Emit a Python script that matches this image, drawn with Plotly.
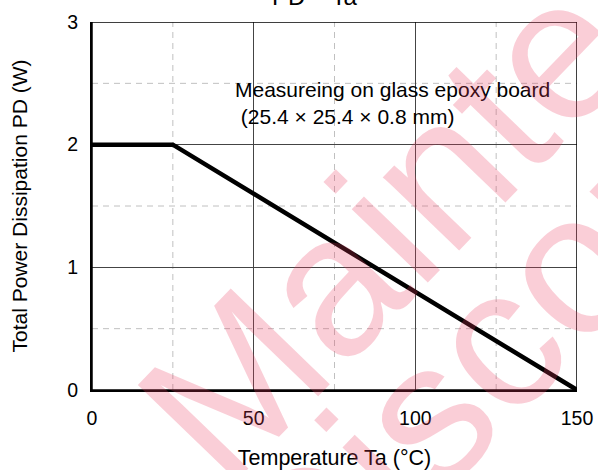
import plotly.graph_objects as go

# Data
temp_c = [0, 25, 150]
power_w = [2.0, 2.0, 0.0]
x_ticks = [0, 50, 100, 150]
y_ticks = [0, 1, 2, 3]
x_minor = [25, 75, 125]
y_minor = [0.5, 1.5, 2.5]

W, H = 598, 470
L, R, T, B = 92, 21, 22, 80
pw, ph = W - L - R, H - T - B
FONT = "Liberation Sans, Arial, sans-serif"

fig = go.Figure()

# dashed minor grid lines
for xv in x_minor:
    fig.add_shape(type="line", x0=xv, x1=xv, y0=0, y1=3, xref="x", yref="y",
                  line=dict(color="#c0c0c0", width=1, dash="6px,5px"), layer="below")
for yv in y_minor:
    fig.add_shape(type="line", x0=0, x1=150, y0=yv, y1=yv, xref="x", yref="y",
                  line=dict(color="#c0c0c0", width=1, dash="6px,5px"), layer="below")

fig.add_trace(go.Scatter(x=temp_c, y=power_w, mode="lines",
                         line=dict(color="black", width=4.5), showlegend=False,
                         hoverinfo="skip"))

# top/right borders
fig.add_shape(type="rect", x0=0, x1=150, y0=0, y1=3, xref="x", yref="y",
              line=dict(color="black", width=1.5), layer="above")

fig.update_xaxes(range=[0, 150], tickvals=x_ticks, showgrid=True, gridcolor="#444",
                 gridwidth=1, zeroline=False, showline=True, linecolor="black", linewidth=2,
                 ticks="", automargin=False, ticklabelstandoff=10,
                 tickfont=dict(family=FONT, size=19.5, color="black"),
                 title=dict(text="Temperature Ta (°C)", font=dict(family=FONT, size=21.5, color="black"), standoff=28),
                 fixedrange=True)
fig.update_yaxes(range=[0, 3], tickvals=y_ticks, showgrid=True, gridcolor="#444",
                 gridwidth=1, zeroline=False, showline=True, linecolor="black", linewidth=2,
                 ticks="", automargin=False, ticklabelstandoff=8,
                 tickfont=dict(family=FONT, size=19.5, color="black"),
                 title=dict(text="Total Power Dissipation PD (W)", font=dict(family=FONT, size=21, color="black"), standoff=34),
                 fixedrange=True)

def px_to_paper(px, py):
    return (px - L) / pw, 1 - (py - T) / ph

# Title (cut off at top)
tx, ty = px_to_paper(315, -4)
fig.add_annotation(text="PD – Ta", x=tx, y=ty, xref="paper", yref="paper",
                   showarrow=False, font=dict(family=FONT, size=24, color="black"),
                   xanchor="center", yanchor="middle")

# Note
fig.add_annotation(text="Measureing on glass epoxy board<br> (25.4 × 25.4 × 0.8 mm)",
                   x=43.6, y=2.336, xref="x", yref="y", showarrow=False, align="left",
                   xanchor="left", yanchor="middle",
                   font=dict(family=FONT, size=21, color="black"))

# Watermark
wm_color = "rgba(235, 60, 95, 0.25)"
mx, my = px_to_paper(592, 12)
fig.add_annotation(text="Maintenance/", x=mx, y=my, xref="paper", yref="paper",
                   showarrow=False, textangle=-46, font=dict(family=FONT, size=200, color=wm_color),
                   xanchor="center", yanchor="middle")
dx, dy = px_to_paper(660, 170)
fig.add_annotation(text="Discontinued", x=dx, y=dy, xref="paper", yref="paper",
                   showarrow=False, textangle=-46, font=dict(family=FONT, size=200, color=wm_color),
                   xanchor="center", yanchor="middle")

fig.update_layout(width=W, height=H, margin=dict(l=L, r=R, t=T, b=B, autoexpand=False),
                  paper_bgcolor="white", plot_bgcolor="white", showlegend=False)

fig.write_html("out.html", config={"displayModeBar": False})
